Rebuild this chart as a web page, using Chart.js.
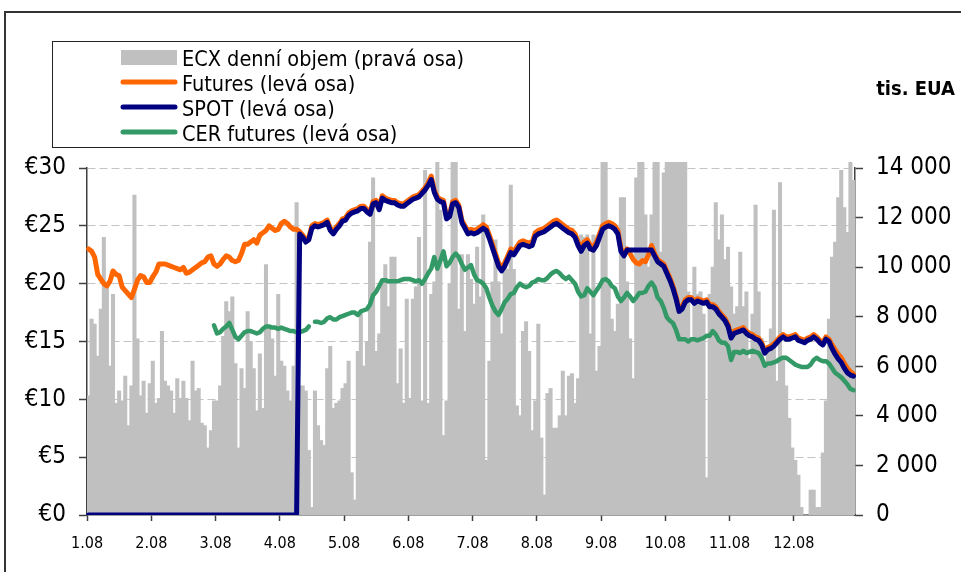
<!DOCTYPE html>
<html>
<head>
<meta charset="utf-8">
<title>ECX 2008</title>
<script src="https://cdn.jsdelivr.net/npm/chart.js@4.4.1/dist/chart.umd.min.js"></script>
<style>
  html, body { margin: 0; padding: 0; background: #fff; }
  #wrap { width: 961px; height: 572px; }
</style>
</head>
<body>
<div id="wrap"><canvas id="ecxChart" width="961" height="572"></canvas></div>
<script>
'use strict';

// --- data: one value per trading day, 21 days between axis ticks ---
const monthLabels = ['1.08', '2.08', '3.08', '4.08', '5.08', '6.08', '7.08', '8.08', '9.08', '10.08', '11.08', '12.08'];
const daysPerTick = 21;

// ECX daily volume, tis. EUA (right axis)
const ecxVolume = [
  4800, 7900, 7700, 6400, 8300, 11200, 9300, 6000, 8900, 4500, 5000, 4600, 5600, 3600, 5200, 12900, 7100, 4800, 5400, 4100, 5300,
  6200, 4500, 4700, 7400, 5400, 5200, 5000, 4100, 5500, 4700, 5400, 4700, 3800, 6200, 5000, 5100, 3700, 3600, 2700, 3400, 4600,
  4600, 5200, 7200, 8600, 8200, 8800, 6100, 2700, 5900, 5100, 8200, 7000, 5900, 4200, 6500, 4300, 10100, 7500, 7100, 5600, 8900,
  6200, 6000, 5000, 4600, 6000, 12600, 5200, 5200, 5000, 2600, 300, 5000, 3600, 3000, 2800, 5900, 6800, 4300, 4500, 4600, 5100,
  5300, 6200, 1700, 600, 6600, 8100, 6000, 7000, 11000, 13600, 6600, 7300, 9500, 10100, 8400, 10400, 10400, 5300, 6700, 4500, 8700,
  4700, 8700, 9200, 11200, 4600, 13900, 4500, 8900, 9400, 14500, 12300, 3200, 4600, 9300, 14500, 14500, 8300, 10500, 7400, 10500, 9500,
  8500, 10800, 8800, 12100, 2200, 6200, 9400, 11100, 9400, 7300, 10000, 9900, 13300, 9900, 4400, 4000, 7400, 7800, 6600, 3400, 4600,
  7700, 3100, 800, 4900, 5100, 3500, 3500, 4000, 5800, 4000, 5600, 5700, 4500, 5500, 11300, 11200, 11300, 7300, 11300, 5800, 6800,
  14500, 14500, 9300, 7900, 7400, 8500, 12800, 12800, 9400, 7100, 5500, 13600, 14500, 14500, 12100, 10000, 12100, 14500, 14500, 10600, 13800,
  14500, 14500, 14500, 14500, 14500, 14500, 14500, 9000, 7100, 10000, 8900, 9000, 8100, 1500, 8900, 10000, 12600, 11100, 12100, 10300, 10800,
  9200, 8100, 8400, 10600, 8400, 9000, 6300, 8100, 12500, 9000, 7100, 6200, 6700, 7500, 12300, 5400, 13400, 6400, 5200, 3900, 2700,
  2200, 1600, 300, 0, 0, 1000, 1000, 300, 300, 2500, 4600, 7900, 10400, 11000, 12800, 13900, 12400, 11400, 14500, 13500
];

// EUA futures, EUR (left axis)
const futures = [
  23.0, 22.8, 22.3, 20.8, 20.4, 20.0, 19.8, 20.2, 21.1, 20.8, 20.7, 19.7, 19.4, 19.1, 18.8, 19.5, 20.3, 20.7, 20.6, 20.1, 20.1,
  20.6, 21.0, 21.7, 21.7, 21.7, 21.6, 21.5, 21.4, 21.3, 21.2, 21.4, 20.9, 21.0, 21.2, 21.4, 21.6, 21.8, 21.9, 22.3, 22.4, 21.7,
  21.5, 21.7, 22.1, 22.4, 22.3, 22.0, 21.9, 22.0, 22.6, 23.4, 23.4, 23.6, 23.8, 23.5, 24.2, 24.4, 24.6, 25.0, 24.8, 24.6, 24.7,
  25.2, 25.4, 25.2, 24.9, 24.7, 24.7, 24.5, 24.2, 23.8, 24.0, 25.0, 25.2, 25.1, 25.2, 25.3, 25.5, 24.8, 24.5, 24.9, 25.2, 25.6,
  25.7, 26.1, 26.3, 26.4, 26.5, 26.7, 26.7, 26.4, 26.2, 27.1, 27.2, 26.6, 27.6, 27.4, 27.3, 27.2, 27.2, 27.0, 26.9, 26.9, 27.1,
  27.3, 27.5, 27.6, 27.7, 28.0, 28.3, 28.7, 29.3, 28.1, 27.5, 27.3, 27.2, 25.8, 26.0, 27.1, 27.2, 26.8, 25.5, 25.0, 24.6, 24.7,
  24.6, 24.7, 24.9, 25.1, 24.9, 24.2, 23.4, 22.6, 21.8, 21.4, 21.8, 22.4, 23.0, 22.8, 23.2, 23.6, 23.7, 23.6, 23.5, 23.6, 24.4,
  24.6, 24.7, 24.8, 25.0, 25.2, 25.4, 25.5, 25.3, 25.1, 24.9, 24.7, 24.6, 24.3, 23.6, 23.1, 23.6, 23.8, 23.3, 23.2, 23.6, 24.3,
  25.0, 25.2, 25.3, 25.2, 25.0, 24.6, 23.0, 22.6, 23.0, 22.6, 22.1, 21.8, 21.7, 22.0, 21.9, 22.5, 23.3, 22.6, 22.1, 21.9, 21.7,
  21.1, 20.5, 19.8, 18.9, 17.8, 18.0, 18.6, 18.8, 18.8, 18.5, 18.7, 18.6, 18.5, 18.6, 18.2, 18.2, 18.0, 17.6, 17.3, 17.0, 16.5,
  15.5, 15.9, 16.0, 16.1, 16.2, 15.9, 15.7, 15.6, 15.4, 15.3, 14.9, 14.2, 14.5, 14.6, 14.8, 15.1, 15.4, 15.6, 15.4, 15.4, 15.5,
  15.6, 15.3, 15.2, 15.1, 15.3, 15.4, 15.6, 15.4, 15.1, 14.9, 15.4, 15.2, 14.7, 14.3, 13.9, 13.6, 13.1, 12.7, 12.4, 12.2
];

// SPOT, EUR (left axis)
const spot = [
  0, 0, 0, 0, 0, 0, 0, 0, 0, 0, 0, 0, 0, 0, 0, 0, 0, 0, 0, 0, 0,
  0, 0, 0, 0, 0, 0, 0, 0, 0, 0, 0, 0, 0, 0, 0, 0, 0, 0, 0, 0, 0,
  0, 0, 0, 0, 0, 0, 0, 0, 0, 0, 0, 0, 0, 0, 0, 0, 0, 0, 0, 0, 0,
  0, 0, 0, 0, 0, 0, 24.3, 24.0, 23.6, 23.8, 24.8, 25.0, 24.9, 25.0, 25.1, 25.3, 24.6, 24.3, 24.7, 25.0, 25.4,
  25.5, 25.9, 26.1, 26.2, 26.3, 26.5, 26.5, 26.2, 26.0, 26.9, 27.0, 26.4, 27.4, 27.2, 27.1, 27.0, 27.0, 26.8, 26.7, 26.7, 26.9,
  27.1, 27.3, 27.4, 27.5, 27.8, 28.1, 28.5, 29.0, 27.9, 27.3, 27.1, 27.0, 25.6, 25.8, 26.9, 27.0, 26.6, 25.3, 24.8, 24.3, 24.4,
  24.3, 24.4, 24.6, 24.8, 24.6, 23.9, 23.1, 22.3, 21.5, 21.1, 21.5, 22.1, 22.7, 22.5, 22.9, 23.3, 23.4, 23.3, 23.2, 23.3, 24.1,
  24.3, 24.4, 24.5, 24.7, 24.9, 25.1, 25.2, 25.0, 24.8, 24.6, 24.4, 24.3, 24.0, 23.3, 22.8, 23.3, 23.5, 23.0, 22.9, 23.3, 24.0,
  24.7, 24.9, 25.0, 24.9, 24.7, 24.3, 22.8, 22.4, 22.9, 22.9, 22.9, 22.9, 22.9, 22.9, 22.9, 22.9, 22.9, 22.4, 21.9, 21.7, 21.5,
  20.9, 20.3, 19.6, 18.7, 17.6, 17.8, 18.4, 18.6, 18.6, 18.3, 18.5, 18.4, 18.3, 18.4, 18.0, 18.0, 17.8, 17.4, 17.1, 16.8, 16.3,
  15.3, 15.7, 15.8, 15.9, 16.0, 15.7, 15.5, 15.4, 15.2, 15.1, 14.7, 14.0, 14.3, 14.4, 14.6, 14.9, 15.2, 15.4, 15.2, 15.2, 15.3,
  15.4, 15.1, 15.0, 14.9, 15.1, 15.2, 15.4, 15.2, 14.9, 14.7, 15.2, 15.0, 14.4, 13.9, 13.5, 13.2, 12.7, 12.3, 12.1, 12.0
];

// CER futures, EUR (left axis)
const cerFutures = [
  null, null, null, null, null, null, null, null, null, null, null, null, null, null, null, null, null, null, null, null, null,
  null, null, null, null, null, null, null, null, null, null, null, null, null, null, null, null, null, null, null, null, 16.4,
  15.7, 15.8, 16.1, 16.3, 16.6, 16.0, 15.4, 15.2, 15.5, 15.8, 15.9, 15.9, 15.8, 15.7, 15.8, 16.1, 16.3, 16.3, 16.2, 16.2, 16.1,
  16.2, 16.1, 16.0, 15.9, 15.9, 15.8, 15.8, 15.9, 16.0, 16.3, null, 16.7, 16.7, 16.6, 16.7, 17.0, 17.1, 16.9, 16.9, 17.1, 17.2,
  17.3, 17.4, 17.5, 17.5, 17.3, 17.6, 17.7, 17.8, 18.2, 19.0, 19.3, 19.8, 20.3, 20.3, 20.2, 20.2, 20.2, 20.2, 20.3, 20.4, 20.4,
  20.4, 20.3, 20.2, 20.3, 20.0, 20.4, 20.9, 21.3, 22.3, 21.3, 22.0, 22.8, 21.5, 21.8, 22.3, 22.6, 22.3, 21.7, 21.2, 21.4, 21.6,
  20.8, 20.3, 20.2, 20.0, 19.6, 18.8, 18.1, 17.6, 17.3, 17.8, 18.4, 18.7, 19.1, 19.2, 19.7, 20.0, 19.8, 19.7, 19.8, 20.1, 20.2,
  20.4, 20.3, 20.3, 20.5, 20.8, 21.0, 21.1, 20.9, 20.6, 20.4, 20.6, 20.3, 20.0, 19.3, 18.9, 19.0, 19.6, 19.3, 19.0, 19.4, 19.8,
  20.3, 20.4, 20.2, 19.8, 19.6, 18.9, 18.5, 18.8, 19.2, 18.9, 18.5, 18.8, 19.2, 19.2, 19.3, 19.8, 20.1, 19.7, 18.8, 18.5, 17.9,
  17.1, 16.8, 16.6, 16.0, 15.2, 15.2, 15.2, 15.0, 15.2, 15.2, 15.1, 15.2, 15.3, 15.5, 15.5, 15.9, 15.6, 15.1, 14.9, 14.9, 14.6,
  13.4, 14.1, 14.1, 14.0, 14.2, 14.0, 14.1, 14.2, 14.1, 14.0, 13.6, 12.9, 13.1, 13.1, 13.2, 13.3, 13.5, 13.6, 13.6, 13.4, 13.2,
  13.0, 12.9, 12.8, 12.8, 12.8, 13.0, 13.4, 13.6, 13.4, 13.3, 13.3, 13.1, 12.7, 12.3, 12.1, 11.9, 11.6, 11.3, 10.9, 10.8
];

// --- look ---
const FONT = "'DejaVu Sans Condensed', 'DejaVu Sans', sans-serif";
const AXIS = '#404040';
const colGray = '#c0c0c0';
const colFutures = '#ff6600';
const colSpot = '#000080';
const colCer = '#339966';

// one category per trading day, named after its tick block
const dayLabels = ecxVolume.map((v, i) => monthLabels[Math.floor(i / daysPerTick)]);

function spaced(n) {
  return String(n).replace(/\B(?=(\d{3})+(?!\d))/g, ' ');
}

// frame, legend box and the unit label are drawn by hand
const excelFrame = {
  id: 'excelFrame',
  beforeDraw(chart) {
    const ctx = chart.ctx;
    ctx.save();
    ctx.fillStyle = '#fff';
    ctx.fillRect(0, 0, chart.width, chart.height);
    ctx.strokeStyle = '#333';
    ctx.lineWidth = 2;
    ctx.strokeRect(5, 12, chart.width + 20, chart.height + 20);
    ctx.restore();
  },
  afterDraw(chart) {
    const ctx = chart.ctx;
    ctx.save();
    ctx.strokeStyle = '#222';
    ctx.lineWidth = 1;
    ctx.strokeRect(52.5, 41.5, 477, 106);

    ctx.font = '21.5px ' + FONT;
    ctx.fillStyle = '#000';
    ctx.textBaseline = 'alphabetic';
    ctx.textAlign = 'left';
    const rows = [3, 0, 1, 2]; // ECX, Futures, SPOT, CER
    rows.forEach((dsIndex, row) => {
      const ds = chart.data.datasets[dsIndex];
      const base = 66 + row * 25;
      if (ds.type === 'bar') {
        ctx.fillStyle = ds.backgroundColor;
        ctx.fillRect(121, base - 16, 56, 15);
      } else {
        ctx.strokeStyle = ds.borderColor;
        ctx.lineWidth = 5;
        ctx.lineCap = 'round';
        ctx.beginPath();
        ctx.moveTo(123, base - 9);
        ctx.lineTo(175, base - 9);
        ctx.stroke();
      }
      ctx.fillStyle = '#000';
      ctx.fillText(ds.label, 182, base);
    });

    ctx.font = 'bold 20px ' + FONT;
    ctx.textAlign = 'right';
    ctx.fillText('tis. EUA', 955, 95);
    ctx.restore();
  }
};

const lineStyle = {
  type: 'line',
  yAxisID: 'y',
  borderWidth: 5,
  pointRadius: 0,
  pointHoverRadius: 0,
  tension: 0,
  spanGaps: false,
  borderJoinStyle: 'round',
  borderCapStyle: 'round'
};

new Chart(document.getElementById('ecxChart'), {
  type: 'bar',
  data: {
    labels: dayLabels,
    datasets: [
      Object.assign({}, lineStyle, { label: 'Futures (levá osa)', data: futures, borderColor: colFutures, backgroundColor: colFutures, order: 3 }),
      Object.assign({}, lineStyle, { label: 'SPOT (levá osa)', data: spot, borderColor: colSpot, backgroundColor: colSpot, order: 1 }),
      Object.assign({}, lineStyle, { label: 'CER futures (levá osa)', data: cerFutures, borderColor: colCer, backgroundColor: colCer, borderWidth: 4.5, order: 2 }),
      {
        type: 'bar',
        label: 'ECX denní objem (pravá osa)',
        data: ecxVolume,
        yAxisID: 'y1',
        backgroundColor: colGray,
        borderWidth: 0,
        categoryPercentage: 1,
        barPercentage: 1,
        inflateAmount: 0.5,
        clip: { left: 0, top: 6, right: 0, bottom: 0 },
        order: 4
      }
    ]
  },
  options: {
    responsive: false,
    animation: false,
    events: [],
    layout: { padding: { top: 168, left: 0, right: 0, bottom: 0 } },
    plugins: { legend: { display: false }, tooltip: { enabled: false } },
    scales: {
      x: {
        type: 'category',
        offset: true,
        afterFit: (s) => { s.height = 57; },
        grid: {
          offset: true,
          drawOnChartArea: false,
          tickLength: 6,
          tickWidth: 1.5,
          color: (c) => (c.index % daysPerTick === 0 ? AXIS : 'rgba(0,0,0,0)'),
          tickColor: (c) => (c.index % daysPerTick === 0 ? AXIS : 'rgba(0,0,0,0)')
        },
        border: { color: AXIS, width: 1.5 },
        ticks: {
          autoSkip: false,
          maxRotation: 0,
          minRotation: 0,
          padding: 13,
          labelOffset: -1.5,
          color: '#000',
          font: { family: FONT, size: 16 },
          callback: function(value, index) {
            return index % daysPerTick === 0 ? this.getLabelForValue(value) : '';
          }
        }
      },
      y: {
        position: 'left',
        min: 0,
        max: 30,
        afterFit: (s) => { s.width = 87; },
        grid: {
          color: (c) => (c.tick && c.tick.value === 0 ? 'rgba(0,0,0,0)' : '#c4c4c4'),
          lineWidth: 1,
          tickColor: AXIS,
          tickLength: 8,
          tickWidth: 1.5
        },
        border: { color: AXIS, width: 1.5, dash: [8, 4] },
        ticks: {
          stepSize: 5,
          padding: 13,
          color: '#000',
          font: { family: FONT, size: 24 },
          callback: (v) => '€' + v
        }
      },
      y1: {
        position: 'right',
        min: 0,
        max: 14000,
        afterFit: (s) => { s.width = 106; },
        grid: {
          drawOnChartArea: false,
          tickColor: AXIS,
          tickLength: 8,
          tickWidth: 1.5
        },
        border: { color: AXIS, width: 1.5 },
        ticks: {
          stepSize: 2000,
          padding: 13,
          color: '#000',
          font: { family: FONT, size: 24 },
          callback: (v) => spaced(v)
        }
      }
    }
  },
  plugins: [excelFrame]
});
</script>
</body>
</html>
